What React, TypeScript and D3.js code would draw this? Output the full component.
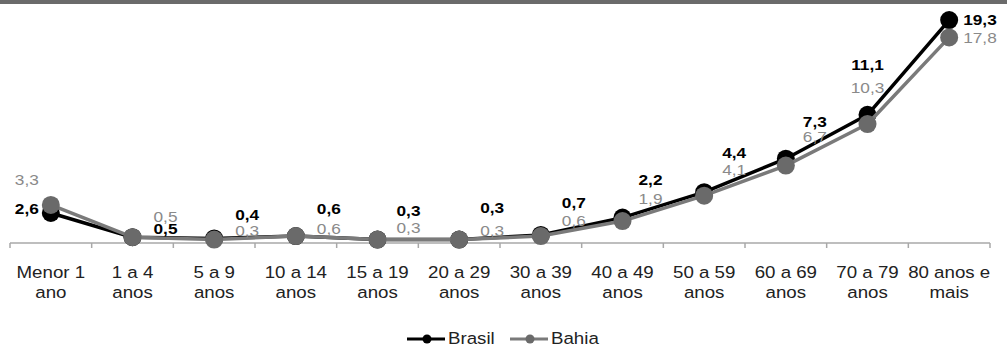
import React from "react";
import * as d3 from "d3";

// Age groups (two-line tick labels)
const categories = [
  ["Menor 1", "ano"],
  ["1 a 4", "anos"],
  ["5 a 9", "anos"],
  ["10 a 14", "anos"],
  ["15 a 19", "anos"],
  ["20 a 29", "anos"],
  ["30 a 39", "anos"],
  ["40 a 49", "anos"],
  ["50 a 59", "anos"],
  ["60 a 69", "anos"],
  ["70 a 79", "anos"],
  ["80 anos e", "mais"],
];

const brasil = [2.6, 0.5, 0.4, 0.6, 0.3, 0.3, 0.7, 2.2, 4.4, 7.3, 11.1, 19.3];
const bahia = [3.3, 0.5, 0.3, 0.6, 0.3, 0.3, 0.6, 1.9, 4.1, 6.7, 10.3, 17.8];

// Label placement per category: anchor + horizontal offset from the point
const labelAnchor = ["end", "start", "start", "start", "start", "start", "start", "start", "start", "start", "middle", "start"];
const labelDx = [-12, 21, 21, 21, 19, 21, 21, 16, 18, 17, 0, 14];
// Vertical offset of each label baseline from its point
const brasilDy = [1, -3, -18, -22, -24, -27, -27, -33, -34, -32, -45, 5];
const bahiaDy = [-20, -15, -4, -2, -7, -4, -10, -17, -21, -24, -31, 6];

const W = 1007;
const H = 347;
const FONT = "'Liberation Sans', Arial, sans-serif";

const fmt = (v: number) => v.toFixed(1).replace(".", ",");

export default function App() {
  const keys = categories.map((c) => c.join(" "));
  const x = d3.scaleBand<string>().domain(keys).range([10, 990]).padding(0);
  const cx = (i: number) => (x(keys[i]) as number) + x.bandwidth() / 2;
  const y = d3.scaleLinear().domain([0, 20]).range([243, 12]);

  const line = d3
    .line<number>()
    .x((_, i) => cx(i))
    .y((d) => y(d));

  const y0 = y(0);
  const ticks = d3.range(keys.length + 1).map((i) => 10 + i * x.bandwidth());

  const series = [
    { name: "Brasil", values: brasil, dys: brasilDy, line: "#000000", marker: "#000000", label: "#000000", bold: true, width: 3.5 },
    { name: "Bahia", values: bahia, dys: bahiaDy, line: "#7a7a7a", marker: "#6a6a6a", label: "#8a8a8a", bold: false, width: 3.5 },
  ];

  return (
    <svg
      width={W}
      height={H}
      style={{ position: "absolute", left: 0, top: 0, background: "#fff" }}
      fontFamily={FONT}
    >
      <rect x={0} y={0} width={W} height={4} fill="#6b6b6b" />

      {/* category axis */}
      <line x1={10} x2={990} y1={y0} y2={y0} stroke="#a8a8a8" strokeWidth={1.5} />
      {ticks.map((t, i) => (
        <line key={i} x1={t} x2={t} y1={y0} y2={y0 + 5} stroke="#a8a8a8" strokeWidth={1.5} />
      ))}
      {categories.map((c, i) => (
        <g key={i} transform={`translate(${cx(i)},0) scale(1.1,1)`}>
          <text x={0} y={278} textAnchor="middle" fontSize={17} fill="#222">
            {c[0]}
          </text>
          <text x={0} y={298} textAnchor="middle" fontSize={17} fill="#222">
            {c[1]}
          </text>
        </g>
      ))}

      {/* series lines and markers */}
      {series.map((s) => (
        <g key={s.name}>
          <path d={line(s.values) as string} fill="none" stroke={s.line} strokeWidth={s.width} strokeLinejoin="round" />
          {s.values.map((v, i) => (
            <circle key={i} cx={cx(i)} cy={y(v)} r={9} fill={s.marker} />
          ))}
        </g>
      ))}

      {/* value labels */}
      {series.map((s) =>
        s.values.map((v, i) => (
          <g key={s.name + i} transform={`translate(${cx(i) + labelDx[i]},${y(v) + s.dys[i]}) scale(1.15,1)`}>
            <text
              x={0}
              y={0}
              textAnchor={labelAnchor[i] as any}
              fontSize={15}
              fontWeight={s.bold ? "bold" : "normal"}
              fill={s.label}
            >
              {fmt(v)}
            </text>
          </g>
        ))
      )}

      {/* legend */}
      {series.map((s, k) => {
        const lx = 407 + k * 103;
        return (
          <g key={s.name}>
            <line x1={lx} x2={lx + 38} y1={339} y2={339} stroke={s.line} strokeWidth={3} />
            <circle cx={lx + 20} cy={339} r={4.5} fill={s.marker} />
            <g transform={`translate(${lx + 41},344) scale(1.1,1)`}>
              <text x={0} y={0} fontSize={17} fill="#222">
                {s.name}
              </text>
            </g>
          </g>
        );
      })}
    </svg>
  );
}
